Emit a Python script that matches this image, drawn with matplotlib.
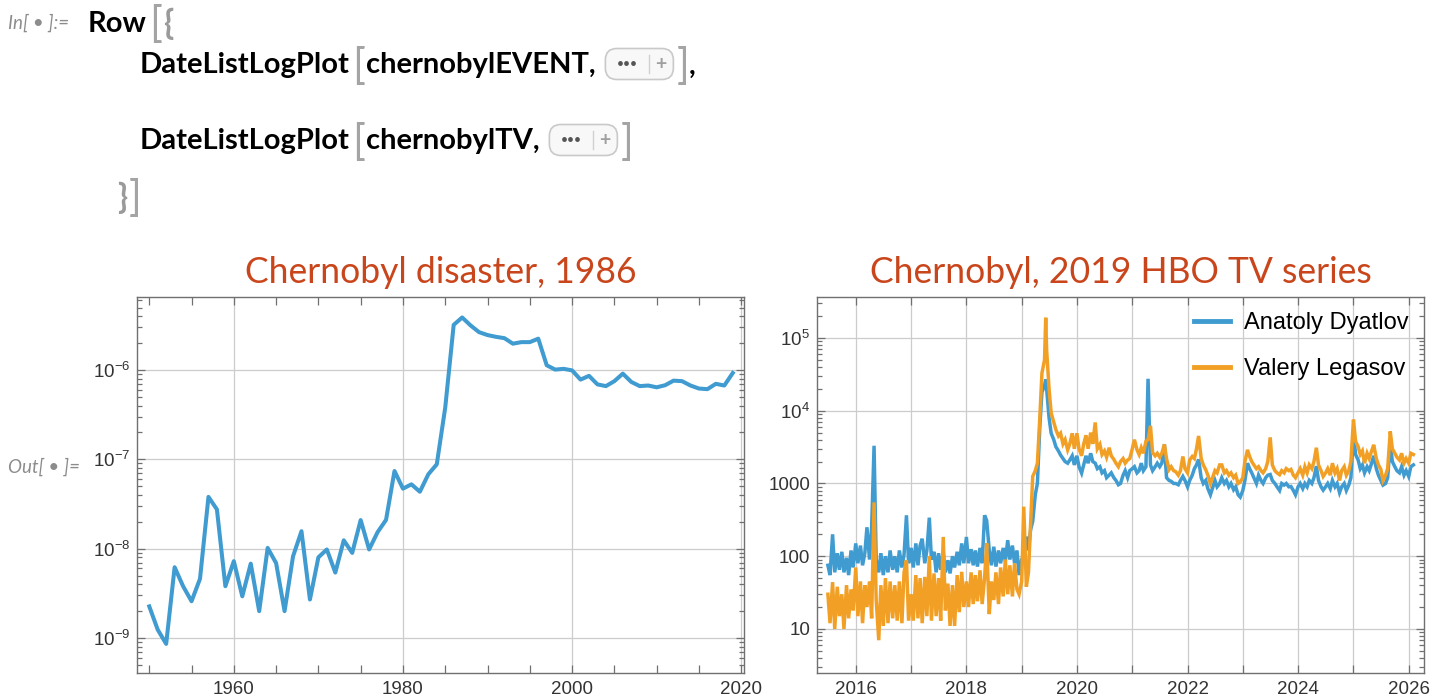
import numpy as np
import pandas as pd
import matplotlib
matplotlib.use("Agg")
import matplotlib.pyplot as plt
import matplotlib.dates as mdates
from matplotlib.ticker import FixedLocator, FuncFormatter, NullFormatter, NullLocator
from matplotlib.patches import FancyBboxPatch
from matplotlib.lines import Line2D

# ---------------- data: left panel (word frequency, yearly) ----------------
event_years = list(range(1950, 2020))
event_freq = [
    2.26e-9, 1.24e-9, 8.6e-10, 6.2e-9, 3.8e-9, 2.58e-9, 4.6e-9, 3.8e-8, 2.75e-8, 3.8e-9,
    7.25e-9, 2.93e-9, 6.8e-9, 2.0e-9, 1.02e-8, 6.9e-9, 2.0e-9, 8.2e-9, 1.57e-8, 2.7e-9,
    8.0e-9, 9.8e-9, 5.4e-9, 1.24e-8, 8.97e-9, 2.09e-8, 9.8e-9, 1.53e-8, 2.1e-8, 7.4e-8,
    4.7e-8, 5.25e-8, 4.34e-8, 6.8e-8, 8.8e-8, 3.8e-7, 3.2e-6, 3.87e-6, 3.15e-6, 2.65e-6,
    2.46e-6, 2.35e-6, 2.27e-6, 1.97e-6, 2.05e-6, 2.05e-6, 2.24e-6, 1.13e-6, 1.01e-6, 1.03e-6,
    0.99e-6, 7.8e-7, 8.6e-7, 6.9e-7, 6.6e-7, 7.5e-7, 9.1e-7, 7.35e-7, 6.6e-7, 6.7e-7,
    6.4e-7, 6.75e-7, 7.6e-7, 7.5e-7, 6.7e-7, 6.2e-7, 6.1e-7, 7.0e-7, 6.7e-7, 9.25e-7,
]
event_year_ticks = [1960, 1980, 2000, 2020]
event_minor_ticks = list(range(1950, 2021, 5))
event_decades = [-9, -8, -7, -6]
tv_decades = [1, 2, 3, 4, 5]

# ---------------- data: right panel (daily page views, sampled twice a month) ----------------
tv_start, tv_end = "2015-07-01", "2026-02-01"
dyatlov_views = [
    75, 55, 200, 60, 110, 65, 115, 60, 95, 55, 120, 70,                                              # 2015 H2
    150, 80, 140, 75, 110, 250, 90, 250, 3300, 90, 60, 110, 55, 100, 60, 120, 65, 100, 60, 120, 70, 105, 365, 80,   # 2016
    130, 70, 150, 75, 140, 174, 80, 120, 339, 90, 115, 60, 110, 65, 115, 60, 88, 58, 100, 70, 115, 75, 150, 80,     # 2017
    184, 80, 125, 75, 120, 72, 130, 80, 365, 310, 120, 75, 135, 72, 120, 80, 130, 85, 166, 90, 140, 80, 120, 55,    # 2018
    90, 100, 186, 120, 230, 300, 700, 1000, 6000, 18000, 22000, 20000, 8000, 4900, 4000, 3200, 2800, 2460, 2200, 2000, 1900, 2100, 2400, 1800,  # 2019
    2400, 1700, 1390, 1800, 2400, 1900, 2600, 2000, 1900, 1600, 1700, 1400, 1500, 1200, 1300, 1400, 1200, 1100, 960, 1000, 1300, 1500, 1200, 1500,  # 2020
    1600, 1700, 1400, 1500, 1900, 1500, 1700, 27500, 1800, 1500, 1700, 1900, 1700, 1900, 3450, 1200, 1100, 1070, 1000, 1000, 960, 1100, 1250, 1100,  # 2021
    900, 1100, 1300, 1600, 1800, 2140, 1200, 1000, 1100, 850, 700, 860, 1100, 900, 1000, 1200, 1000, 1100, 900, 1000, 820, 900, 700, 650,  # 2022
    800, 1100, 1900, 1600, 1400, 1200, 1000, 1300, 1100, 1000, 1200, 1300, 1330, 1100, 1000, 900, 800, 1000, 950, 1000, 900, 910, 800, 700,  # 2023
    900, 1000, 850, 1000, 900, 1100, 1000, 1200, 1730, 1100, 900, 810, 900, 1000, 850, 1100, 900, 1000, 750, 900, 1000, 800, 950, 1200,  # 2024
    4900, 2500, 2100, 1600, 1800, 1400, 1700, 1500, 1900, 2400, 1600, 1300, 1100, 950, 1000, 1200, 3600, 2000, 1700, 1500, 1400, 1700, 1300, 1500,  # 2025
    1250, 1700, 1800,                                                                                # 2026
]
legasov_views = [
    30, 12, 44, 10, 38, 15, 30, 10, 40, 14, 35, 18,
    70, 15, 45, 12, 40, 20, 45, 14, 550, 25, 7, 40, 11, 50, 12, 45, 14, 40, 13, 45, 12, 60, 88, 13,
    30, 13, 55, 14, 50, 12, 52, 15, 100, 13, 58, 15, 50, 13, 184, 18, 42, 11, 40, 11, 55, 17, 61, 20,
    45, 20, 60, 22, 55, 24, 64, 22, 50, 150, 16, 45, 25, 60, 22, 70, 28, 90, 30, 75, 28, 80, 35, 30,
    45, 480, 38, 60, 285, 1250, 1500, 1900, 8000, 33000, 50000, 69000, 20000, 9300, 7000, 5500, 4500, 4900, 3500, 4000, 2900, 3500, 4900, 3000,
    4900, 3000, 2400, 3500, 4600, 3000, 5000, 3500, 6900, 3000, 3450, 2500, 2800, 2300, 3100, 2400, 2140, 1900, 1700, 2000, 2200, 1900, 2100, 2200,
    3000, 4000, 2900, 2500, 3100, 2600, 3800, 4000, 6200, 2650, 2400, 2600, 2300, 2600, 3450, 2200, 1550, 1700, 1500, 1450, 1300, 1500, 2350, 1600,
    1400, 2100, 2350, 2200, 3000, 4500, 2200, 1800, 1550, 1300, 1000, 1200, 1500, 1400, 1800, 1800, 1400, 1500, 1300, 1400, 1200, 1300, 1000, 1050,
    1200, 2000, 2900, 2350, 2000, 1800, 1600, 1700, 1500, 1400, 1600, 2000, 4300, 1800, 1500, 1400, 1320, 1500, 1400, 1600, 1500, 1560, 1300, 1200,
    1400, 1600, 1300, 1700, 1400, 1800, 1600, 2000, 3100, 1800, 1500, 1250, 1400, 1600, 1300, 1900, 1400, 1600, 1100, 1500, 1700, 1300, 1500, 2000,
    7550, 3800, 3200, 2500, 2800, 1900, 2600, 2200, 2800, 3400, 2200, 1800, 1560, 1100, 1300, 1600, 5200, 3000, 2600, 2300, 2100, 2600, 1900, 2200,
    1900, 2600, 2500,
]
peak_dates = ["2019-06-09"]
peak_dyatlov = [27000]
peak_legasov = [190000]
series_labels = ["Anatoly Dyatlov", "Valery Legasov"]

left_title = "Chernobyl disaster, 1986"
right_title = "Chernobyl, 2019 HBO TV series"

# ---------------- assemble right-panel frame ----------------
grid_dates = pd.date_range(tv_start, tv_end, freq="SMS")
tv = pd.DataFrame({"date": list(grid_dates) + list(pd.to_datetime(peak_dates)),
                   "dyatlov": dyatlov_views + peak_dyatlov,
                   "legasov": legasov_views + peak_legasov}).sort_values("date")

# ---------------- styling ----------------
plt.rcParams['font.family'] = ['Liberation Sans', 'DejaVu Sans']
plt.rcParams['mathtext.fontset'] = 'custom'
plt.rcParams['mathtext.rm'] = 'Liberation Sans'
plt.rcParams['mathtext.it'] = 'Liberation Sans:italic'
plt.rcParams['mathtext.bf'] = 'Liberation Sans:bold'

W, H = 1430, 700
fig = plt.figure(figsize=(W / 100, H / 100), dpi=100)
fig.patch.set_facecolor('white')

BLUE = '#3f9bd0'
ORANGE = '#f2a025'
TITLE_C = '#c9461c'
FRAME = '#707070'
GRID = '#cccccc'
TICKLAB = '#333333'

ax1 = fig.add_axes([137 / W, 27 / H, 607 / W, 376 / H])
ax2 = fig.add_axes([817 / W, 27 / H, 607 / W, 376 / H])

ax1.plot(event_years, event_freq, color=BLUE, lw=2.9, solid_joinstyle='round')
ax1.set_yscale('log')
ax1.set_xlim(1948.55, 2020.33)
ax1.set_ylim(4.06e-10, 6.56e-6)
ax1.xaxis.set_major_locator(FixedLocator(event_year_ticks))
ax1.xaxis.set_minor_locator(FixedLocator(event_minor_ticks))
ax1.xaxis.set_major_formatter(FuncFormatter(lambda v, p: f"{int(round(v))}"))
ax1.xaxis.set_minor_formatter(NullFormatter())

ax2.plot(tv["date"], tv["dyatlov"], color=BLUE, lw=2.5, solid_joinstyle='miter')
ax2.plot(tv["date"], tv["legasov"], color=ORANGE, lw=2.5, solid_joinstyle='miter')
ax2.set_yscale('log')
ax2.set_xlim(pd.Timestamp("2015-04-20"), pd.Timestamp("2026-04-12"))
ax2.set_ylim(2.48, 3.66e5)
ax2.xaxis.set_major_locator(mdates.YearLocator(1))
ax2.xaxis.set_minor_locator(NullLocator())
ax2.xaxis.set_major_formatter(FuncFormatter(
    lambda v, p: (str(mdates.num2date(v).year) if mdates.num2date(v).year % 2 == 0 else "")))


def sci_left(v, p):
    k = int(round(np.log10(v)))
    return f"$10^{{{k}}}$"


def sci_right(v, p):
    k = int(round(np.log10(v)))
    if k <= 3:
        return f"{10 ** k}"
    return f"$10^{{{k}}}$"


ax1.yaxis.set_major_formatter(FuncFormatter(sci_left))
ax2.yaxis.set_major_formatter(FuncFormatter(sci_right))


def minor_in_range(ax, lo_exp, hi_exp):
    lo, hi = ax.get_ylim()
    vals = [k * 10.0 ** e for e in range(lo_exp, hi_exp + 1) for k in range(2, 10)]
    return [v for v in vals if lo <= v <= hi]


ax1.yaxis.set_major_locator(FixedLocator([10.0 ** e for e in event_decades]))
ax2.yaxis.set_major_locator(FixedLocator([10.0 ** e for e in tv_decades]))
ax1.yaxis.set_minor_locator(FixedLocator(minor_in_range(ax1, -10, -6)))
ax2.yaxis.set_minor_locator(FixedLocator(minor_in_range(ax2, 0, 5)))

for ax in (ax1, ax2):
    ax.yaxis.set_minor_formatter(NullFormatter())
    for s in ax.spines.values():
        s.set_color(FRAME)
        s.set_linewidth(1.0)
    ax.set_axisbelow(True)
    ax.grid(which='major', color=GRID, lw=0.9)
    ax.tick_params(which='both', direction='in', top=True, right=True, color=FRAME,
                   labelcolor=TICKLAB, labelsize=13.5, width=0.9)
    ax.tick_params(axis='y', which='major', length=6, pad=5)
    ax.tick_params(axis='y', which='minor', length=3.5)
    ax.tick_params(axis='x', which='both', length=6, pad=6)

ax1.set_title(left_title, color=TITLE_C, fontsize=25.6, family='Lato', pad=10)
ax2.set_title(right_title, color=TITLE_C, fontsize=25.6, family='Lato', pad=10)

handles = [Line2D([], [], color=BLUE, lw=3.5), Line2D([], [], color=ORANGE, lw=3.5)]
ax2.legend(handles, series_labels, loc='upper right', frameon=False, fontsize=17,
           handlelength=1.5, handletextpad=0.6, labelspacing=1.0,
           borderaxespad=0.2, borderpad=0.45)

# ---------------- notebook input / output labels ----------------
fig.canvas.draw()
renderer = fig.canvas.get_renderer()

CODE_SIZE = 21
GRAY_BR = '#a4a4a4'


def put(x, yc, s, **kw):
    t = fig.text(x / W, 1 - yc / H, s, va='center_baseline', ha='left', **kw)
    return t.get_window_extent(renderer).x1


def button(x, yc, w=68, h=31):
    box = FancyBboxPatch((x / W, 1 - (yc + h / 2) / H), w / W, h / H,
                         boxstyle="round,pad=0,rounding_size=0.008",
                         transform=fig.transFigure, facecolor='#f8f8f8',
                         edgecolor='#c9c9c9', lw=1.2, mutation_aspect=W / H)
    fig.patches.append(box)
    fig.text((x + w * 0.33) / W, 1 - yc / H, "\u00b7\u00b7\u00b7", ha='center', va='center',
             fontsize=18, color='#555555', family='Lato', weight='bold')
    fig.lines.append(Line2D([(x + w * 0.64) / W] * 2, [1 - (yc - h * 0.3) / H, 1 - (yc + h * 0.3) / H],
                            transform=fig.transFigure, color='#d0d0d0', lw=1))
    fig.text((x + w * 0.82) / W, 1 - yc / H, "+", ha='center', va='center',
             fontsize=14, color='#a0a0a0', family='Lato', weight='bold')
    return x + w


code_kw = dict(family='Lato', weight='bold', fontsize=CODE_SIZE, color='black')
br_kw = dict(family='Lato', weight='normal', fontsize=CODE_SIZE * 1.45, color=GRAY_BR)
lab_kw = dict(family='Lato', style='italic', fontsize=13.5, color='#8c8c8c')

put(8, 21, "In[ \u2022 ]:=", **lab_kw)
x = put(88, 21, "Row", **code_kw)
x = put(x + 2, 21, "[", **br_kw)
x = put(x + 1, 21, "{", family='Lato', weight='bold', fontsize=CODE_SIZE * 1.15, color='#9a9a9a')

y2 = 63
x = put(140, y2, "DateListLogPlot", **code_kw)
x = put(x + 2, y2, "[", **br_kw)
x = put(x + 1, y2, "chernobylEVENT,", **code_kw)
x = button(x + 10, y2 + 1)
x = put(x + 3, y2, "]", **br_kw)
put(x, y2, ",", **code_kw)

y3 = 139
x = put(140, y3, "DateListLogPlot", **code_kw)
x = put(x + 2, y3, "[", **br_kw)
x = put(x + 1, y3, "chernobylTV,", **code_kw)
x = button(x + 10, y3 + 1)
put(x + 3, y3, "]", **br_kw)

x = put(117, 195, "}", family='Lato', weight='bold', fontsize=CODE_SIZE * 1.15, color='#9a9a9a')
put(x + 2, 195, "]", **br_kw)

put(8, 465, "Out[ \u2022 ]=", **lab_kw)

fig.savefig("out.png", dpi=100)
